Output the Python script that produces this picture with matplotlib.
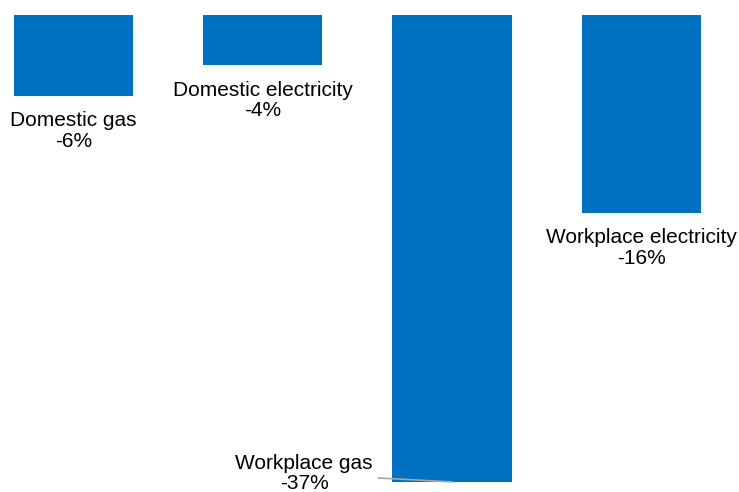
import matplotlib.pyplot as plt
import numpy as np

# Change in energy use by sector
sectors = ['Domestic gas', 'Domestic electricity', 'Workplace gas', 'Workplace electricity']
change = [-6.4, -4.0, -37.0, -15.7]
bar_color = '#0070C0'

plt.rcParams['font.family'] = ['Liberation Sans', 'DejaVu Sans']

fig = plt.figure(figsize=(7.39, 4.92), dpi=100)
ax = fig.add_axes([0, 0, 1, 1])

x = np.arange(len(sectors))
ax.bar(x, change, width=0.63, color=bar_color)

# labels under each bar; the big one sits to the left with a leader line
for i in range(len(sectors)):
    txt = '%s\n%d%%' % (sectors[i], round(change[i]))
    if i == 2:
        ax.annotate(txt, xy=(x[i], change[i]), xytext=(1.218, -36.35),
                    textcoords='data', ha='center', va='center',
                    fontsize=15, linespacing=1.1,
                    arrowprops=dict(arrowstyle='-', color='#A6A6A6', lw=1.2,
                                    relpos=(1.0, 0.4), shrinkA=2, shrinkB=0))
    else:
        ax.annotate(txt, xy=(x[i], change[i]), xytext=(0, -11),
                    textcoords='offset points', ha='center', va='top',
                    fontsize=15, linespacing=1.1)

ax.set_xlim(-0.388, 3.516)
ax.set_ylim(-37.8, 1.19)
ax.axis('off')

fig.savefig('out.png', dpi=100)
